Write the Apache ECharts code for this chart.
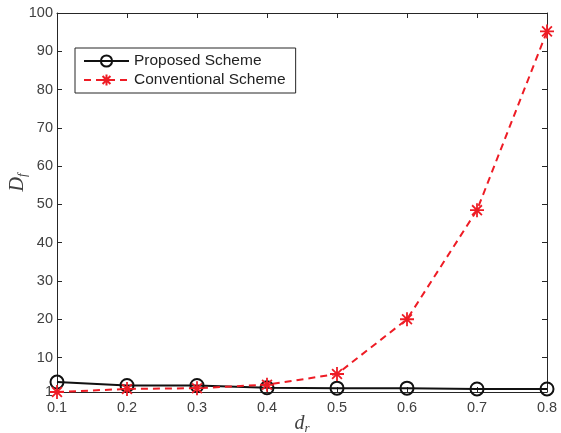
<!DOCTYPE html>
<html>
<head>
<meta charset="utf-8">
<script src="https://cdn.jsdelivr.net/npm/echarts@6/dist/echarts.min.js"></script>
<style>
  html, body { margin: 0; padding: 0; background: #fff; }
  #chart { width: 561px; height: 433px; }
</style>
</head>
<body>
<div id="chart"></div>
<script>
var dr = [0.1, 0.2, 0.3, 0.4, 0.5, 0.6, 0.7, 0.8];
var proposed = [3.6, 2.7, 2.7, 2.1, 2.0, 2.0, 1.8, 1.8];
var conventional = [1.0, 1.8, 2.0, 2.9, 5.7, 20.0, 48.5, 95.2];
var yTicks = [1, 10, 20, 30, 40, 50, 60, 70, 80, 90, 100];

var star = 'path://M0,-10L0,10M-10,0L10,0M-7,-7L7,7M-7,7L7,-7';
var labelFont = {color: '#404040', fontSize: 14.5, fontFamily: 'Liberation Sans'};
var nameRich = {
    m: {fontSize: 20, fontStyle: 'italic', fontFamily: 'Liberation Serif', color: '#404040'},
    s: {fontSize: 13, fontStyle: 'italic', fontFamily: 'Liberation Serif', color: '#404040', padding: [10, 0, 0, 0]}
};

function pairs(xs, ys) {
    return xs.map(function (x, i) { return [x, ys[i]]; });
}

var chart = echarts.init(document.getElementById('chart'));
chart.setOption({
    animation: false,
    grid: {left: 57, right: 14, top: 13, bottom: 41, containLabel: false, outerBoundsMode: 'none'},
    legend: {
        orient: 'vertical',
        left: 75,
        top: 48,
        itemWidth: 45,
        itemHeight: 14,
        itemGap: 3,
        padding: [5, 10, 5, 8],
        borderColor: '#262626',
        borderWidth: 1,
        backgroundColor: '#fff',
        textStyle: {color: '#222', fontSize: 15.5, fontFamily: 'Liberation Sans'},
        data: ['Proposed Scheme', 'Conventional Scheme']
    },
    xAxis: [{
        type: 'value',
        min: 0.1,
        max: 0.8,
        interval: 0.1,
        name: '{m|d}{s|r}',
        nameLocation: 'middle',
        nameGap: 20,
        nameMoveOverlap: false,
        nameTextStyle: {rich: nameRich},
        axisLine: {lineStyle: {color: '#262626', width: 1}},
        axisTick: {inside: true, length: 5, lineStyle: {color: '#262626'}},
        axisLabel: Object.assign({margin: 8, formatter: function (v) { return v.toFixed(1); }}, labelFont),
        splitLine: {show: false}
    }, {
        type: 'value',
        position: 'top',
        min: 0.1,
        max: 0.8,
        interval: 0.1,
        axisLine: {lineStyle: {color: '#262626', width: 1}},
        axisTick: {inside: true, length: 5, lineStyle: {color: '#262626'}},
        axisLabel: {show: false},
        splitLine: {show: false}
    }],
    yAxis: [{
        type: 'value',
        min: 1,
        max: 100,
        name: '{m|D}{s|f}',
        nameLocation: 'middle',
        nameGap: 28,
        nameMoveOverlap: false,
        nameTextStyle: {rich: nameRich, padding: [0, 0, 0, 40]},
        axisLine: {show: true, lineStyle: {color: '#262626', width: 1}},
        axisTick: {show: true, inside: true, length: 5, customValues: yTicks, lineStyle: {color: '#262626'}},
        axisLabel: Object.assign({margin: 4, customValues: yTicks}, labelFont),
        splitLine: {show: false}
    }, {
        type: 'value',
        position: 'right',
        min: 1,
        max: 100,
        axisLine: {show: true, lineStyle: {color: '#262626', width: 1}},
        axisTick: {show: true, inside: true, length: 5, customValues: yTicks, lineStyle: {color: '#262626'}},
        axisLabel: {show: false, customValues: yTicks},
        splitLine: {show: false}
    }],
    series: [{
        name: 'Proposed Scheme',
        type: 'line',
        data: pairs(dr, proposed),
        symbol: 'circle',
        symbolSize: 13,
        showAllSymbol: true,
        itemStyle: {color: 'rgba(0,0,0,0)', borderColor: '#111', borderWidth: 2},
        lineStyle: {color: '#111', width: 2}
    }, {
        name: 'Conventional Scheme',
        type: 'line',
        data: pairs(dr, conventional),
        symbol: star,
        symbolSize: 14,
        showAllSymbol: true,
        itemStyle: {color: 'rgba(0,0,0,0)', borderColor: '#ee1c25', borderWidth: 1.8},
        lineStyle: {color: '#ee1c25', width: 2, type: [7, 5]}
    }]
});
</script>
</body>
</html>
